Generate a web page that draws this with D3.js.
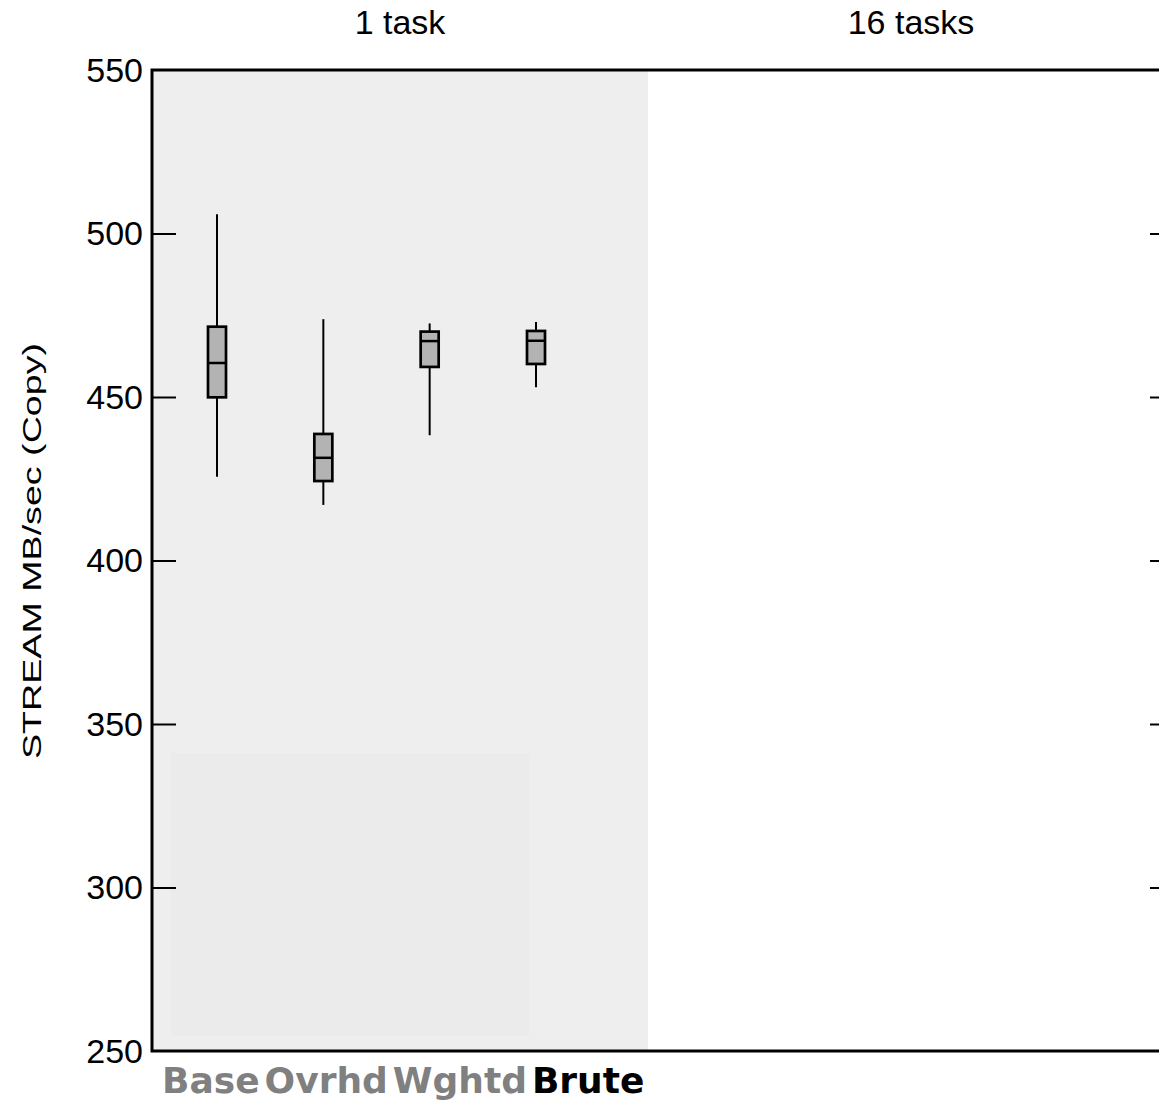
<!DOCTYPE html>
<html>
<head>
<meta charset="utf-8">
<script src="https://cdn.jsdelivr.net/npm/d3@7"></script>
<style>
  body { margin: 0; background: #fff; }
  svg { display: block; }
</style>
</head>
<body>
<svg id="chart" width="1159" height="1103"></svg>
<script>
// data
var panels = ["1 task", "16 tasks"];
var categories = ["Base", "Ovrhd", "Wghtd", "Brute"];
var whiskerLow  = [425.6, 417.0, 438.3, 453.0];
var q1          = [449.9, 424.3, 459.2, 460.1];
var median      = [460.4, 431.4, 467.1, 467.2];
var q3          = [471.5, 438.7, 470.0, 470.2];
var whiskerHigh = [505.9, 473.8, 472.5, 472.9];
var yTicks = [250, 300, 350, 400, 450, 500, 550];
var labelColors = ["#808080", "#808080", "#808080", "#000000"];

var MARGIN = {LEFT: 152, RIGHT: 1174, TOP: 70, BOTTOM: 1051};

var svg = d3.select("#chart");

var y = d3.scaleLinear()
  .domain([250, 550])
  .range([MARGIN.BOTTOM, MARGIN.TOP]);

var panelX = d3.scaleOrdinal()
  .domain(panels)
  .range([[MARGIN.LEFT, 648], [648, MARGIN.RIGHT]]);

var x = d3.scalePoint()
  .domain(categories)
  .range([217, 536]);

var boxes = categories.map(function(c, i) {
  return {cat: c, lo: whiskerLow[i], q1: q1[i], med: median[i], q3: q3[i], hi: whiskerHigh[i]};
});

// shaded first panel
var p1 = panelX(panels[0]);
svg.append("rect")
  .attr("x", p1[0]).attr("y", MARGIN.TOP)
  .attr("width", p1[1] - p1[0]).attr("height", MARGIN.BOTTOM - MARGIN.TOP)
  .attr("fill", "#eeeeee");

// faint inner box
svg.append("rect")
  .attr("x", 171).attr("y", 753)
  .attr("width", 358).attr("height", 283)
  .attr("fill", "#ebebeb");

// panel titles
svg.selectAll("text.title")
  .data(panels)
  .enter().append("text")
  .attr("class", "title")
  .attr("x", function(d) { var r = panelX(d); return (r[0] + r[1]) / 2; })
  .attr("y", 34)
  .attr("text-anchor", "middle")
  .style("font-family", "Liberation Sans, Arial, sans-serif")
  .style("font-size", "34px")
  .text(function(d) { return d; });

// ticks, inward on both sides
var yAxis = d3.axisRight(y).tickValues(yTicks).tickSize(24).tickFormat(d3.format("d"));
var gl = svg.append("g")
  .attr("transform", "translate(" + MARGIN.LEFT + ",0)")
  .call(yAxis);
gl.select(".domain").remove();
gl.selectAll(".tick line").attr("stroke", "#000").attr("stroke-width", 2)
  .attr("display", function(d) { return (d === 250 || d === 550) ? "none" : null; });
gl.selectAll(".tick text")
  .attr("x", -9).attr("dy", null).attr("y", 0)
  .attr("text-anchor", "end")
  .style("font-family", "Liberation Sans, Arial, sans-serif")
  .style("font-size", "34px")
  .attr("fill", "#000")
  .attr("transform", "translate(0,11)");

var gr = svg.append("g")
  .attr("transform", "translate(" + MARGIN.RIGHT + ",0)")
  .call(d3.axisLeft(y).tickValues(yTicks).tickSize(24).tickFormat(""));
gr.select(".domain").remove();
gr.selectAll(".tick line").attr("stroke", "#000").attr("stroke-width", 2)
  .attr("display", function(d) { return (d === 250 || d === 550) ? "none" : null; });

// frame
svg.append("rect")
  .attr("x", MARGIN.LEFT).attr("y", MARGIN.TOP)
  .attr("width", MARGIN.RIGHT - MARGIN.LEFT).attr("height", MARGIN.BOTTOM - MARGIN.TOP)
  .attr("fill", "none").attr("stroke", "#000").attr("stroke-width", 3);

// y label
svg.append("text")
  .attr("transform", "translate(41," + ((343 + 759) / 2) + ") rotate(-90)")
  .attr("text-anchor", "middle")
  .attr("textLength", 416)
  .attr("lengthAdjust", "spacingAndGlyphs")
  .style("font-family", "Liberation Sans, Arial, sans-serif")
  .style("font-size", "26px")
  .text("STREAM MB/sec (Copy)");

// box plots
var bw = 18;
var g = svg.append("g");
var bx = g.selectAll("g.box").data(boxes).enter().append("g").attr("class", "box");

bx.append("line")
  .attr("x1", function(d) { return x(d.cat); }).attr("x2", function(d) { return x(d.cat); })
  .attr("y1", function(d) { return y(d.hi); }).attr("y2", function(d) { return y(d.lo); })
  .attr("stroke", "#000").attr("stroke-width", 2);

bx.append("rect")
  .attr("x", function(d) { return x(d.cat) - bw / 2; })
  .attr("y", function(d) { return y(d.q3); })
  .attr("width", bw)
  .attr("height", function(d) { return y(d.q1) - y(d.q3); })
  .attr("fill", "#b3b3b3").attr("stroke", "#000").attr("stroke-width", 2.7);

bx.append("line")
  .attr("x1", function(d) { return x(d.cat) - bw / 2; }).attr("x2", function(d) { return x(d.cat) + bw / 2; })
  .attr("y1", function(d) { return y(d.med); }).attr("y2", function(d) { return y(d.med); })
  .attr("stroke", "#000").attr("stroke-width", 2.5);

// category labels laid out one after another
var lab = svg.append("text")
  .attr("x", 162).attr("y", 1093)
  .style("font-family", "DejaVu Sans, sans-serif")
  .style("font-weight", "bold")
  .style("font-size", "36px");
categories.forEach(function(c, i) {
  lab.append("tspan")
    .attr("dx", i === 0 ? 0 : 5)
    .attr("fill", labelColors[i])
    .text(c);
});
</script>
</body>
</html>
